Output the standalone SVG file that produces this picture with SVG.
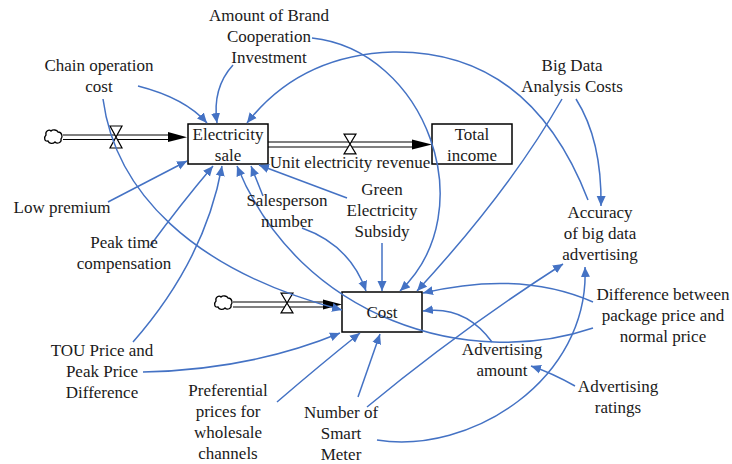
<svg xmlns="http://www.w3.org/2000/svg" width="732" height="464" viewBox="0 0 732 464">
<style>
.c{fill:none;stroke:#4472C4;stroke-width:1.5;marker-end:url(#ah)}
text{font-family:"Liberation Serif","Times New Roman",serif;font-size:17px;text-anchor:middle;fill:#1a1a1a}
.box{fill:#fff;stroke:#000;stroke-width:1.5}
.pipe{stroke:#000;stroke-width:1.2;fill:none}
.valve{fill:#fff;stroke:#000;stroke-width:1.2}
.cloud{fill:#fff;stroke:#000;stroke-width:1.3}
</style>
<defs>
<marker id="ah" markerUnits="userSpaceOnUse" markerWidth="12" markerHeight="10" refX="10" refY="5" orient="auto">
<path d="M0,0.5 L10,5 L0,9.5 Z" fill="#4472C4"/>
</marker>
<path id="cl" d="M1,5 C0,1 4,-1 6,1 C8,-1 12,0 13,2 C17,2 18,7 16,9 C17,13 12,14 10,12 C8,14 4,14 3,11 C-1,12 -1,7 1,5 Z"/>
<path id="vl" d="M-6,-11 L6,-11 L-6,11 L6,11 Z"/>
</defs>

<g id="flows">
<use href="#cl" class="cloud" x="45" y="130"/>
<line class="pipe" x1="63" y1="135" x2="170" y2="135"/>
<line class="pipe" x1="63" y1="139.5" x2="170" y2="139.5"/>
<path d="M168,132 L187,137.2 L168,142 Z" fill="#000"/>
<use href="#vl" class="valve" x="116" y="137"/>

<line class="pipe" x1="268" y1="142" x2="414" y2="142"/>
<line class="pipe" x1="268" y1="147" x2="414" y2="147"/>
<path d="M412,139.5 L432,144.5 L412,149.5 Z" fill="#000"/>
<use href="#vl" class="valve" x="350" y="144" transform="translate(350,144) scale(1,0.9) translate(-350,-144)"/>

<use href="#cl" class="cloud" x="215" y="296"/>
<line class="pipe" x1="233" y1="302" x2="325" y2="302"/>
<line class="pipe" x1="233" y1="307" x2="325" y2="307"/>
<path d="M323,299.5 L342,304.5 L323,309.5 Z" fill="#000"/>
<use href="#vl" class="valve" x="287" y="303" transform="translate(287,303) scale(1,0.9) translate(-287,-303)"/>
</g>

<g id="electricity-sale"><rect class="box" x="188" y="124" width="80" height="40"/><text x="228" y="140">Electricity</text><text x="228" y="161">sale</text></g>
<g id="total-income"><rect class="box" x="432" y="124" width="80" height="40"/><text x="472" y="140">Total</text><text x="472" y="161">income</text></g>
<g id="cost"><rect class="box" x="342" y="292" width="80" height="40"/></g>

<g id="connectors">
<path class="c" d="M138,86 Q185,98 207,123"/>
<path class="c" d="M233,65 Q212,88 217,123"/>
<path class="c" d="M588,200 Q530,50 393,52 Q300,55 247,123"/>
<path class="c" d="M108,202 L187,161"/>
<path class="c" d="M150,246 Q180,205 213,166"/>
<path class="c" d="M133,342 Q205,260 222,166"/>
<path class="c" d="M593,328 C470,370 300,320 237,166"/>
<path class="c" d="M263,196 L251,166"/>
<path class="c" d="M347,198 L259,165"/>
<path class="c" d="M103,99 C115,190 190,270 342,310"/>
<path class="c" d="M302,228 Q350,245 366,291"/>
<path class="c" d="M382,243 L382,291"/>
<path class="c" d="M312,38 C425,50 485,210 400,291"/>
<path class="c" d="M562,99 Q510,190 417,291"/>
<path class="c" d="M593,302 Q520,270 423,293"/>
<path class="c" d="M492,342 Q465,305 423,311"/>
<path class="c" d="M143,372 Q250,370 340,333"/>
<path class="c" d="M277,402 Q320,365 360,333"/>
<path class="c" d="M358,397 L380,334"/>
<path class="c" d="M576,99 Q602,140 601,206"/>
<path class="c" d="M367,407 Q460,330 563,264"/>
<path class="c" d="M377,440 C470,455 590,380 585,267"/>
<path class="c" d="M575,386 Q552,373 531,366"/>
</g>

<g id="cost-label"><text x="382" y="318">Cost</text></g>
<g id="unit-electricity-revenue"><text x="350" y="168">Unit electricity revenue</text></g>
<g id="amount-of-brand"><text x="269" y="21">Amount of Brand</text><text x="269" y="42">Cooperation</text><text x="269" y="63">Investment</text></g>
<g id="chain-operation-cost"><text x="99" y="71">Chain operation</text><text x="99" y="92">cost</text></g>
<g id="big-data-costs"><text x="572" y="71">Big Data</text><text x="572" y="92">Analysis Costs</text></g>
<g id="low-premium"><text x="62" y="213">Low premium</text></g>
<g id="salesperson-number"><text x="287" y="206">Salesperson</text><text x="287" y="227">number</text></g>
<g id="green-subsidy"><text x="382" y="195">Green</text><text x="382" y="216">Electricity</text><text x="382" y="237">Subsidy</text></g>
<g id="accuracy"><text x="600" y="218">Accuracy</text><text x="600" y="239">of big data</text><text x="600" y="260">advertising</text></g>
<g id="peak-time"><text x="124" y="248">Peak time</text><text x="124" y="269">compensation</text></g>
<g id="difference"><text x="663" y="300">Difference between</text><text x="663" y="321">package price and</text><text x="663" y="342">normal price</text></g>
<g id="tou"><text x="102" y="356">TOU Price and</text><text x="102" y="377">Peak Price</text><text x="102" y="398">Difference</text></g>
<g id="advertising-amount"><text x="502" y="355">Advertising</text><text x="502" y="376">amount</text></g>
<g id="advertising-ratings"><text x="618" y="392">Advertising</text><text x="618" y="413">ratings</text></g>
<g id="preferential"><text x="228" y="396">Preferential</text><text x="228" y="417">prices for</text><text x="228" y="438">wholesale</text><text x="228" y="459">channels</text></g>
<g id="smart-meter"><text x="341" y="418">Number of</text><text x="341" y="439">Smart</text><text x="341" y="460">Meter</text></g>
</svg>
